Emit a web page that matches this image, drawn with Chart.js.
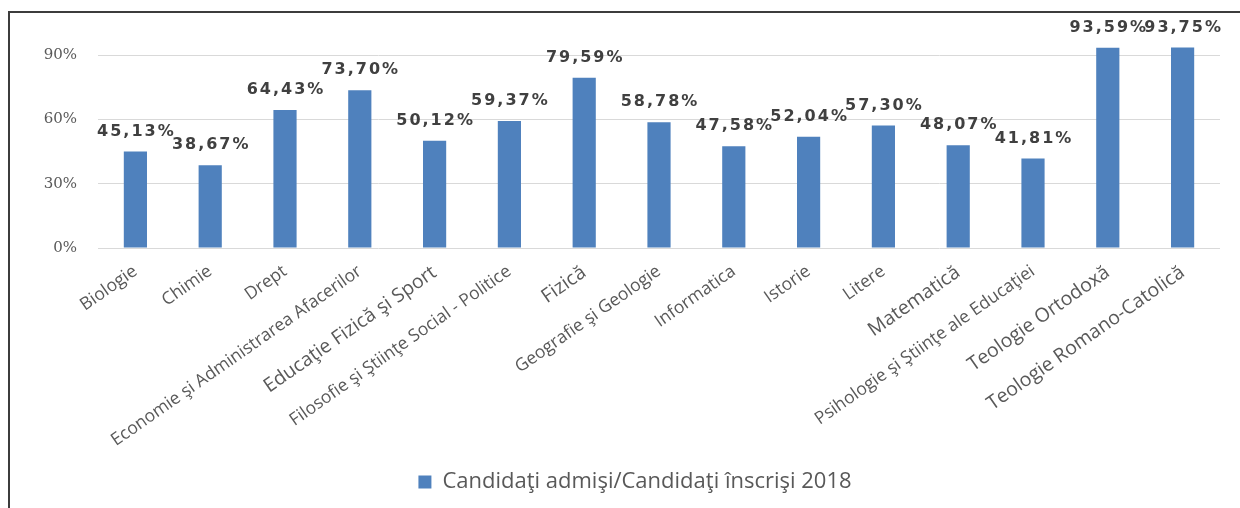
<!DOCTYPE html>
<html>
<head>
<meta charset="utf-8">
<script src="https://cdn.jsdelivr.net/npm/chart.js@4.4.1/dist/chart.umd.min.js"></script>
<style>
  html, body { margin: 0; padding: 0; background: #fff; }
  #frame {
    position: absolute; left: 8px; top: 11px;
    width: 1230px; height: 495px;
    border-left: 2px solid #3c3c3c; border-top: 2px solid #3c3c3c;
  }
</style>
</head>
<body>
<div id="frame"><canvas id="chart" width="1230" height="495"></canvas></div>
<script>
const categories = [
  "Biologie", "Chimie", "Drept", "Economie şi Administrarea Afacerilor",
  "Educaţie Fizică şi Sport", "Filosofie şi Ştiinţe Social - Politice", "Fizică",
  "Geografie şi Geologie", "Informatica", "Istorie", "Litere", "Matematică",
  "Psihologie şi Ştiinţe ale Educaţiei", "Teologie Ortodoxă", "Teologie Romano-Catolică"
];
const admittedShare = [45.13, 38.67, 64.43, 73.70, 50.12, 59.37, 79.59, 58.78, 47.58, 52.04, 57.30, 48.07, 41.81, 93.59, 93.75];
const yTicks = [0, 30, 60, 90];
const seriesName = "Candidaţi admişi/Candidaţi înscrişi 2018";

// labels that Excel drew with a bigger font
const bigLabels = ["Educaţie Fizică şi Sport", "Fizică", "Matematică", "Teologie Ortodoxă", "Teologie Romano-Catolică"];

const fmt = v => v.toFixed(2).replace(".", ",") + "%";

// value labels above the bars
const barLabels = {
  id: "barLabels",
  afterDatasetsDraw(chart) {
    const ctx = chart.ctx;
    const meta = chart.getDatasetMeta(0);
    ctx.save();
    ctx.font = "bold 16px 'DejaVu Sans'";
    ctx.letterSpacing = "2px";
    ctx.fillStyle = "#404040";
    ctx.textAlign = "center";
    ctx.textBaseline = "middle";
    meta.data.forEach((bar, i) => {
      ctx.fillText(fmt(admittedShare[i]), bar.x + 1, bar.y - 20);
    });
    ctx.restore();
  }
};

new Chart(document.getElementById("chart").getContext("2d"), {
  type: "bar",
  data: {
    labels: categories,
    datasets: [{
      label: seriesName,
      data: admittedShare,
      backgroundColor: "#4F81BD",
      categoryPercentage: 1,
      barPercentage: 0.31
    }]
  },
  options: {
    responsive: false,
    animation: false,
    layout: { padding: { left: 20, right: 0, top: 21, bottom: 5 } },
    plugins: {
      tooltip: { enabled: false },
      legend: {
        position: "bottom",
        labels: {
          boxWidth: 13,
          boxHeight: 13,
          padding: 10,
          color: "#595959",
          font: { family: "'Open Sans'", size: 22 }
        }
      }
    },
    scales: {
      x: {
        grid: { display: false },
        border: { display: false },
        ticks: {
          autoSkip: false,
          minRotation: 35,
          maxRotation: 35,
          padding: 5,
          color: "#595959",
          font: ctx => ({
            family: "'Open Sans'",
            size: bigLabels.includes(categories[ctx.index]) ? 19.5 : 17.5
          })
        },
        afterFit(scale) { scale.height = 213; }
      },
      y: {
        min: 0,
        max: 100,
        grid: { color: "#d9d9d9", lineWidth: 1, drawTicks: false },
        border: { display: false },
        ticks: {
          stepSize: 30,
          padding: 21,
          color: "#595959",
          font: { family: "'DejaVu Serif'", size: 15 },
          callback: v => v + "%"
        },
        afterBuildTicks(scale) {
          scale.ticks = yTicks.map(v => ({ value: v }));
        },
        afterFit(scale) {
          scale.width = 68;
          scale.paddingTop = 0;
          scale.paddingBottom = 0;
        }
      },
      y2: {
        position: "right",
        grid: { display: false },
        border: { display: false },
        ticks: { display: false },
        afterFit(scale) { scale.width = 20; }
      }
    }
  },
  plugins: [barLabels]
});
</script>
</body>
</html>
